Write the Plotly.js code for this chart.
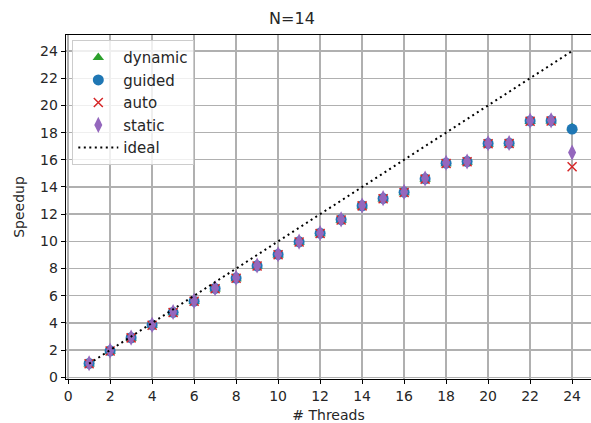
<!DOCTYPE html>
<html>
<head>
<meta charset="utf-8">
<script src="https://cdn.plot.ly/plotly-3.0.1.min.js"></script>
<style>html,body{margin:0;padding:0;background:#fff;}#chart{width:591px;height:423px;}</style>
</head>
<body>
<div id="chart"></div>
<script>
const threads = [1,2,3,4,5,6,7,8,9,10,11,12,13,14,15,16,17,18,19,20,21,22,23,24];
const dynamicSpeedup = [0.98,1.92,2.88,3.82,4.75,5.58,6.5,7.25,8.18,9.0,9.93,10.56,11.55,12.6,13.12,13.58,14.56,15.7,15.82,17.15,17.18,18.82,18.85,18.35];
const guidedSpeedup  = [1.02,1.95,2.91,3.85,4.78,5.6,6.54,7.3,8.2,9.04,9.97,10.6,11.6,12.62,13.16,13.62,14.6,15.75,15.87,17.2,17.22,18.86,18.88,18.26];
const autoSpeedup    = [1.0,1.93,2.9,3.83,4.77,5.59,6.52,7.28,8.19,9.02,9.95,10.58,11.57,12.61,13.14,13.6,14.58,15.73,15.85,17.18,17.2,18.84,18.86,15.49];
const staticSpeedup  = [1.03,1.96,2.92,3.86,4.8,5.62,6.55,7.32,8.22,9.05,9.98,10.62,11.62,12.64,13.18,13.64,14.62,15.78,15.88,17.22,17.24,18.88,18.9,16.54];
const idealX = [1,24];
const idealY = [1,24];
const xTicks = [0,2,4,6,8,10,12,14,16,18,20,22,24];
const yTicks = [0,2,4,6,8,10,12,14,16,18,20,22,24];

const traces = [
  {x: threads, y: dynamicSpeedup, name: 'dynamic', mode: 'markers', type: 'scatter',
   marker: {symbol: 'triangle-up', size: 10, color: '#2ca02c'}},
  {x: threads, y: guidedSpeedup, name: 'guided', mode: 'markers', type: 'scatter',
   marker: {symbol: 'circle', size: 11, color: '#1f77b4'}},
  {x: threads, y: autoSpeedup, name: 'auto', mode: 'markers', type: 'scatter',
   marker: {symbol: 'x-thin', size: 9, color: '#d62728', line: {color: '#d62728', width: 1.5}}},
  {x: threads, y: staticSpeedup, name: 'static', mode: 'markers', type: 'scatter',
   marker: {symbol: 'diamond-tall', size: 11.5, color: '#9467bd'}},
  {x: idealX, y: idealY, name: 'ideal', mode: 'lines', type: 'scatter',
   line: {color: '#000000', dash: '2px,3.5px', width: 2}}
];

const font = {family: 'DejaVu Sans, sans-serif', size: 14, color: '#262626'};
const layout = {
  width: 591, height: 423,
  margin: {l: 66, r: 0, t: 35, b: 44},
  paper_bgcolor: '#ffffff', plot_bgcolor: '#ffffff',
  font: font,
  showlegend: true,
  title: {text: 'N=14', font: {family: 'DejaVu Sans, sans-serif', size: 16, color: '#262626'},
          xref: 'container', x: 0.494, xanchor: 'center', yref: 'container', y: 0.957, yanchor: 'middle'},
  xaxis: {
    range: [-0.1, 24.9], tickmode: 'array', tickvals: xTicks, ticktext: xTicks.map(String),
    showgrid: true, gridcolor: '#b0b0b0', gridwidth: 1.4, zeroline: false,
    showline: true, linecolor: '#000000', linewidth: 1.3, mirror: true,
    ticks: 'outside', ticklen: 4, tickcolor: '#000000', tickwidth: 1,
    tickfont: font,
    title: {text: '# Threads', font: font, standoff: 9}
  },
  yaxis: {
    range: [-0.125, 25.18], tickmode: 'array', tickvals: yTicks, ticktext: yTicks.map(String),
    showgrid: true, gridcolor: '#b0b0b0', gridwidth: 1.4, zeroline: false,
    showline: true, linecolor: '#000000', linewidth: 1.3, mirror: false,
    ticks: 'outside', ticklen: 4, tickcolor: '#000000', tickwidth: 1,
    tickfont: font,
    title: {text: 'Speedup', font: font, standoff: 12}
  },
  legend: {
    x: 0.012, y: 0.985, xanchor: 'left', yanchor: 'top',
    bgcolor: 'rgba(255,255,255,0.8)', bordercolor: '#cccccc', borderwidth: 1,
    font: {family: 'DejaVu Sans, sans-serif', size: 15, color: '#262626'},
    tracegroupgap: 0, itemwidth: 40
  }
};

Plotly.newPlot('chart', traces, layout, {displayModeBar: false, staticPlot: true});
</script>
</body>
</html>
